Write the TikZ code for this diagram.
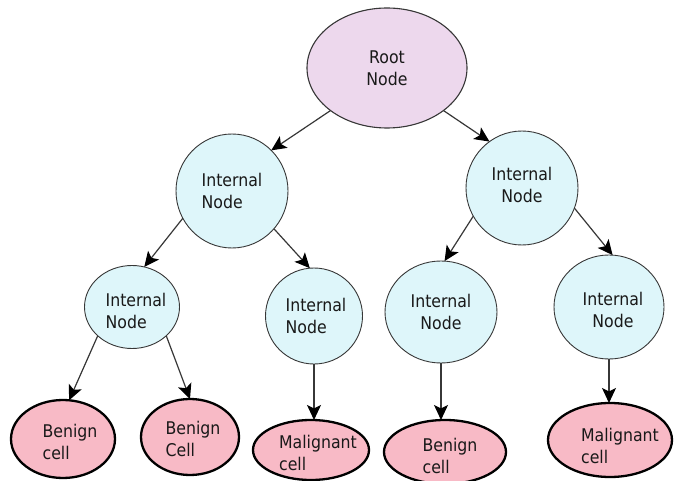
\documentclass[tikz,border=0pt]{standalone}
\usepackage{fontspec}
\setmainfont{DejaVu Sans Condensed}
\usetikzlibrary{shapes.geometric,arrows.meta}
\definecolor{rootfill}{RGB}{237,216,237}
\definecolor{innerfill}{RGB}{222,246,250}
\definecolor{leaffill}{RGB}{248,186,198}
\definecolor{edgegray}{RGB}{55,55,55}
\definecolor{inkgray}{RGB}{25,25,25}

\begin{document}
\begin{tikzpicture}[x=1pt,y=-1pt,
  blob/.style={ellipse, inner sep=0pt, outer sep=0pt},
  rootnode/.style={blob, draw=edgegray, line width=1.1pt, fill=rootfill},
  inner/.style={blob, draw=edgegray, line width=0.9pt, fill=innerfill},
  leaf/.style={blob, draw=black, line width=2.3pt, fill=leaffill},
  txt/.style={font=\fontsize{17.5}{22}\selectfont, text=inkgray, align=#1, inner sep=0pt},
  txt/.default=center,
  link/.style={draw=edgegray, line width=1.2pt,
    -{Stealth[length=15pt,width=14pt,inset=3.5pt,color=black]}}
]
\fill[white] (0,0) rectangle (675,481);
\useasboundingbox (0,0) rectangle (675,481);

% tree nodes
\node[rootnode, minimum width=160, minimum height=120,
  label={[txt]center:{Root\\Node}}] (root) at (387,68) {};

\node[inner, minimum width=112, minimum height=114,
  label={[txt=left]center:{Internal\\Node}}] (l1) at (232,191) {};
\node[inner, minimum width=112, minimum height=114,
  label={[txt, yshift=3]center:{Internal\\Node}}] (r1) at (522,188) {};

\node[inner, minimum width=95, minimum height=83,
  label={[txt=left, xshift=4, yshift=-4]center:{Internal\\Node}}] (ll) at (132,307) {};
\node[inner, minimum width=97, minimum height=96,
  label={[txt=left, xshift=2]center:{Internal\\Node}}] (lr) at (314,316) {};
\node[inner, minimum width=112, minimum height=102,
  label={[txt]center:{Internal\\Node}}] (rl) at (441,312) {};
\node[inner, minimum width=110, minimum height=104,
  label={[txt, xshift=4, yshift=-3]center:{Internal\\Node}}] (rr) at (609,307) {};

% leaves
\node[leaf, minimum width=104, minimum height=78,
  label={[txt=left, xshift=7, yshift=-3]center:{Benign\\cell}}] (b1) at (63,439) {};
\node[leaf, minimum width=98, minimum height=76,
  label={[txt=left, xshift=3, yshift=-2]center:{Benign\\Cell}}] (b2) at (190,437) {};
\node[leaf, minimum width=116, minimum height=60,
  label={[txt=left, xshift=7, yshift=-3]center:{Malignant\\cell}}] (m1) at (311,450) {};
\node[leaf, minimum width=122, minimum height=64,
  label={[txt=left, xshift=5, yshift=-4]center:{Benign\\cell}}] (b3) at (445,452) {};
\node[leaf, minimum width=124, minimum height=74,
  label={[txt=left, xshift=10, yshift=-6]center:{Malignant\\cell}}] (m2) at (610,440) {};

% connectors
\draw[link] (root.-143) -- (l1.46);
\draw[link] (root.-37) -- (r1.125);
\draw[link] (l1.-151) -- (ll.73);
\draw[link] (l1.-42) -- (lr.95);
\draw[link] (ll.-140) -- (b1.81);
\draw[link] (ll.-40) -- (b2.90);
\draw[link] (lr.south) -- (lr.south |- m1.north);
\draw[link] (r1.-150) -- (rl.86);
\draw[link] (r1.-21) -- (rr.86);
\draw[link] (rl.south) -- (rl.south |- b3.north);
\draw[link] (rr.south) -- (rr.south |- m2.north);
\end{tikzpicture}
\end{document}
